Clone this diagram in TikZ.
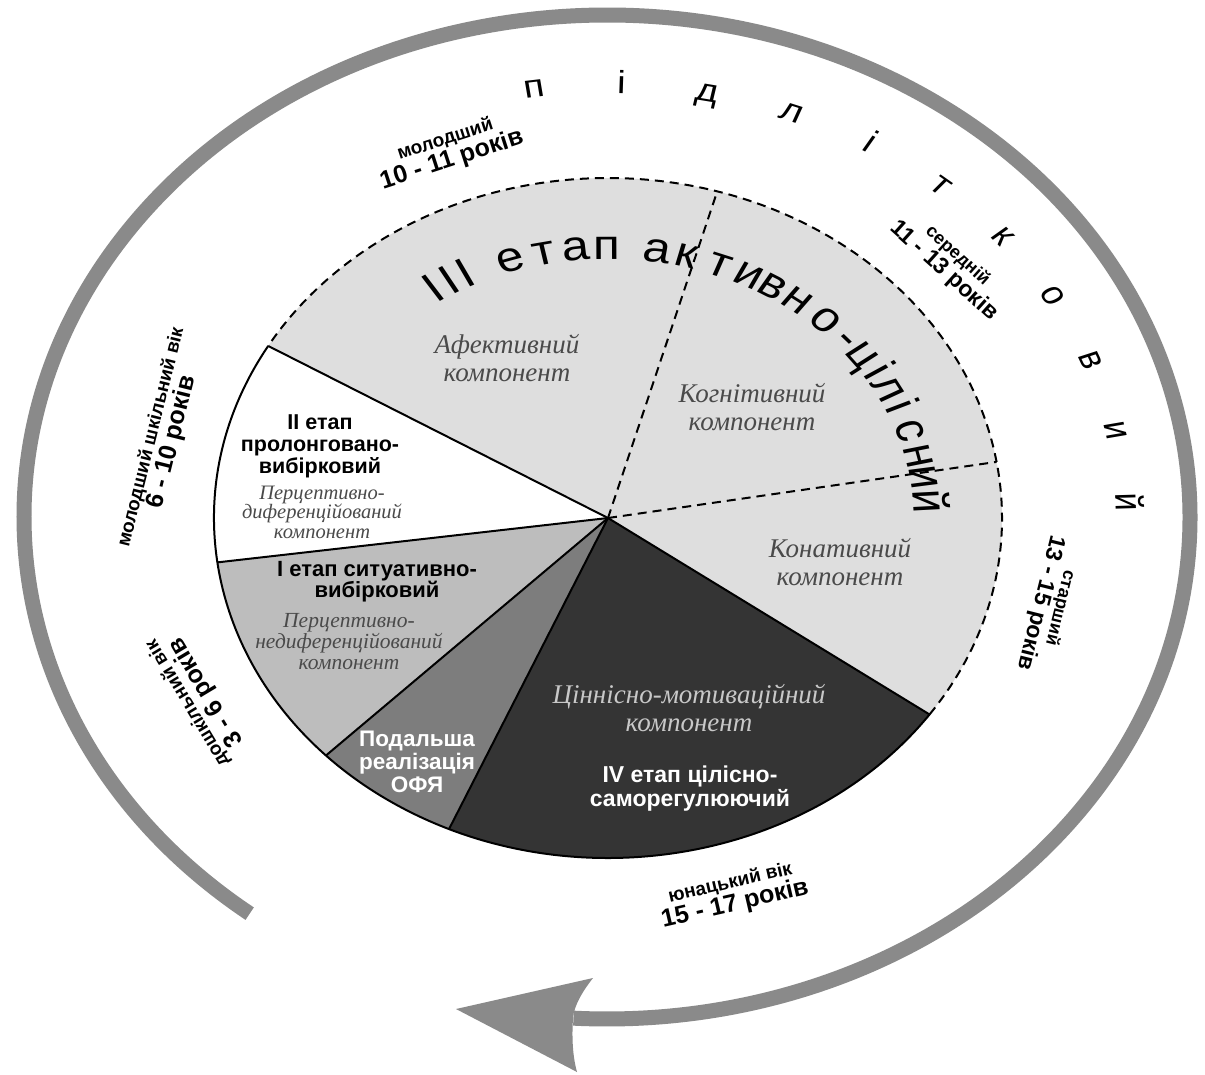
\documentclass[tikz,border=0pt]{standalone}
\usepackage{fontspec}
\setmainfont{Liberation Sans}
\newfontfamily\serfam{Liberation Serif}
\usetikzlibrary{calc}
\definecolor{lgray}{HTML}{DEDEDE}
\definecolor{sgray}{HTML}{BDBDBD}
\definecolor{mgray}{HTML}{7D7D7D}
\definecolor{dgray}{HTML}{343434}
\definecolor{rgray}{HTML}{8A8A8A}
\definecolor{itgray}{HTML}{4A4A4A}
\definecolor{itlight}{HTML}{C8C8C8}
\newcommand{\fsz}[2]{\fontsize{#1}{#2}\selectfont}
\begin{document}
\begin{tikzpicture}[x=1pt,y=1pt,
  sect/.style={draw=black, line width=2pt, line join=round},
  dsh/.style={draw=black, line width=2pt, dash pattern=on 9pt off 6pt},
  comp/.style={font=\serfam\itshape\fsz{27}{28}, text=itgray, align=center, inner sep=0pt},
  compsm/.style={font=\serfam\itshape\fsz{20.5}{19.5}, text=itgray, align=center, inner sep=0pt},
  stagebf/.style={font=\bfseries\fsz{21.5}{22}, align=center, inner sep=0pt},
  lbl/.style={font=\bfseries, align=center, inner sep=0pt},
  arcletter/.style={font=\fsz{42}{42}, anchor=base, inner sep=0pt},
  ringletter/.style={font=\fsz{32}{32}, anchor=base, inner sep=0pt}
]
\useasboundingbox (0,0) rectangle (1205,-1074);
\fill[white] (0,0) rectangle (1205,-1074);

% ---------- outer arrow ring ----------
\coordinate (RC) at (607,-517);
\coordinate (rs) at ($(RC)+(232.2:583 and 502)$);
\coordinate (atip) at (456,-1009);
\coordinate (aup) at (593,-978);
\coordinate (anotch) at (573,-1018);
\coordinate (alow) at (577,-1072);
\draw[rgray, line width=15pt] (rs) arc[start angle=232.2, end angle=-93.3, x radius=583, y radius=502];
\fill[rgray] (atip) -- (aup) .. controls (582,-992) and (574,-1006) .. (anotch)
  .. controls (572,-1034) and (572,-1054) .. (alow) -- cycle;

% ---------- pie ----------
\coordinate (O) at (608,-518);
\coordinate (pA) at ($(O)+(149.6:394 and 340)$);
\coordinate (pB) at ($(O)+(187.5:394 and 340)$);
\coordinate (pC) at ($(O)+(224.3:394 and 340)$);
\coordinate (pD) at ($(O)+(246.2:394 and 340)$);
\coordinate (pE) at ($(O)+(324.7:394 and 340)$);
\coordinate (pF) at ($(O)+(9.5:394 and 340)$);
\coordinate (pG) at ($(O)+(73.9:394 and 340)$);

\fill[lgray] (O) -- (pE) arc[start angle=-35.3, end angle=149.6, x radius=394, y radius=340] -- cycle;
\fill[white] (O) -- (pA) arc[start angle=149.6, end angle=187.5, x radius=394, y radius=340] -- cycle;
\fill[sgray] (O) -- (pB) arc[start angle=187.5, end angle=224.3, x radius=394, y radius=340] -- cycle;
\fill[mgray] (O) -- (pC) arc[start angle=224.3, end angle=246.2, x radius=394, y radius=340] -- cycle;
\fill[dgray] (O) -- (pD) arc[start angle=246.2, end angle=324.7, x radius=394, y radius=340] -- cycle;

\draw[sect] (pA) arc[start angle=149.6, end angle=324.7, x radius=394, y radius=340];
\draw[dsh] (pE) arc[start angle=-35.3, end angle=149.6, x radius=394, y radius=340];
\draw[sect] (O) -- (pA);
\draw[sect] (O) -- (pB);
\draw[sect] (O) -- (pC);
\draw[sect] (O) -- (pD);
\draw[sect] (O) -- (pE);
\draw[dsh] (O) -- (pF);
\draw[dsh] (O) -- (pG);

% ---------- curved title inside pie ----------
\begin{scope}[shift={(O)}, xscale=1.18, transform shape]
\foreach \c/\a [count=\i] in {I/122.9, I/119.6, I/116.3, е/107.8, т/101.5, а/95.8, п/90.2,
   а/81.2, к/75.7, т/69.5, и/63.8, в/59.0, н/53.5, о/46.9, -/41.4, ц/37.0, і/32.7, л/28.5,
   і/24.2, с/18.9, н/13.2, и/8.6, й/3.6}{
  \node[arcletter, rotate=\a-90] (tl\i) at (\a:259) {\c};
}
\end{scope}

% ---------- "підлітковий" around ring ----------
\begin{scope}[shift={(RC)}, xscale=1.2, transform shape]
\foreach \c [count=\i] in {п,і,д,л,і,т,к,о,в,и,й}{
  \pgfmathsetmacro{\ang}{98-9.6*(\i-1)}
  \node[ringletter, rotate=\ang-90] (rl\i) at (\ang:424) {\c};
}
\end{scope}

% ---------- sector texts ----------
\node[comp] (afc) at (507,-358) {Афективний\\компонент};
\node[comp] (kog) at (752,-407) {Когнітивний\\компонент};
\node[comp] (kon) at (840,-562) {Конативний\\компонент};
\node[comp, text=itlight] (cin) at (689,-708) {Ціннісно-мотиваційний\\компонент};

\node[stagebf] (st2) at (320,-446) {II етап\\пролонговано-\\вибірковий};
\node[compsm] (c2) at (322,-512) {Перцептивно-\\диференційований\\компонент};

\node[stagebf, font=\bfseries\fsz{22}{21}] (st1) at (377,-582) {I етап ситуативно-\\вибірковий};
\node[compsm, font=\serfam\itshape\fsz{21.5}{21}] (c1) at (349,-642) {Перцептивно-\\недиференційований\\компонент};

\node[stagebf, text=white, font=\bfseries\fsz{22.5}{23}] (ofa) at (417,-762) {Подальша\\реалізація\\ОФЯ};
\node[stagebf, text=white, font=\bfseries\fsz{23}{24}] (st4) at (690,-789) {IV етап цілісно-\\саморегулюючий};

% ---------- age labels ----------
\node[lbl, rotate=18] (l1) at (449,-151) {\fsz{19}{22}молодший\\\fsz{25}{25}10 - 11 років};
\node[lbl, rotate=76] (l2) at (163,-440) {\fsz{19}{22}молодший шкільний вік\\\fsz{25}{25}6 - 10 років};
\node[lbl, rotate=121] (l3) at (198,-697) {\fsz{19}{22}дошкільний вік\\\fsz{25}{25}3 - 6 років};
\node[lbl, rotate=-42] (l4) at (950,-264) {\fsz{18}{21}середній\\\fsz{23}{23}11 - 13 років};
\node[lbl, rotate=-104] (l5) at (1049,-605) {\fsz{18}{21}старший\\\fsz{23}{23}13 - 15 років};
\node[lbl, rotate=13] (l6) at (733,-895) {\fsz{19}{22}юнацький вік\\\fsz{25}{25}15 - 17 років};
\end{tikzpicture}
\end{document}
